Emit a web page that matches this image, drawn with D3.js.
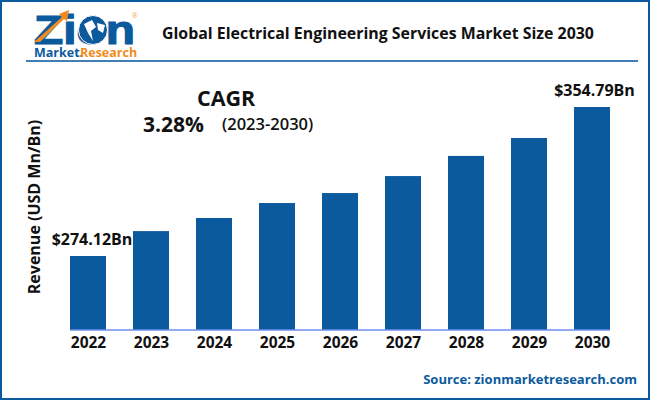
<!DOCTYPE html>
<html lang="en">
  <head>
    <meta charset="utf-8">
    <title>Global Electrical Engineering Services Market Size 2030</title>
    <script src="https://d3js.org/d3.v7.min.js"></script>
    <style>
      html, body { margin: 0; padding: 0; background: #fff; }
      text { font-family: "Open Sans", sans-serif; }
    </style>
  </head>
  <body>
    <div id="chart"></div>
    <script>
      const years = ["2022", "2023", "2024", "2025", "2026", "2027", "2028", "2029", "2030"];
      const revenue = [274.12, 287.6, 294.7, 302.8, 308.2, 317.4, 328.3, 338.0, 354.79];
      const firstLabel = "$274.12Bn";
      const lastLabel = "$354.79Bn";

      const svgWidth = 650, svgHeight = 400;
      const margin = { top: 107, right: 40, bottom: 70, left: 70 };
      const blue = "#0b5a9e";
      const ink = "#111";

      const svg = d3.select("#chart").append("svg")
          .attr("width", svgWidth)
          .attr("height", svgHeight)
          .style("display", "block");

      // page frame
      svg.append("rect")
          .attr("x", 1).attr("y", 1)
          .attr("width", svgWidth - 2).attr("height", svgHeight - 2)
          .attr("fill", "none")
          .attr("stroke", blue)
          .attr("stroke-width", 2);

      // header rule
      svg.append("line")
          .attr("x1", 26).attr("x2", 638)
          .attr("y1", 61).attr("y2", 61)
          .attr("stroke", "#3f7fb5")
          .attr("stroke-width", 2);

      // logo
      const logo = svg.append("g");
      logo.append("text").attr("x", 34).attr("y", 44)
          .attr("font-size", 41).attr("font-weight", 700)
          .attr("textLength", 101).attr("lengthAdjust", "spacingAndGlyphs")
          .attr("stroke", blue).attr("stroke-width", 1.2)
          .style("font-family", "'Liberation Sans', sans-serif")
          .attr("fill", blue).text("Zion");
      logo.append("path")
          .attr("d", "M34 42 L62 17 L59 14 L69 10 L67 21 L64 19 L40 42 Z")
          .attr("fill", "#f08c1e");
      logo.append("circle").attr("cx", 93).attr("cy", 30).attr("r", 14.5)
          .attr("fill", blue).attr("stroke", "#fff").attr("stroke-width", 1);
      logo.append("path")
          .attr("d", "M84 24 L92 20 L96 27 L91 31 L93 41 L88 33 Z M97 23 L105 25 L103 33 L98 30 Z")
          .attr("fill", "#fff");
      logo.append("text").attr("x", 132).attr("y", 18)
          .attr("font-size", 7).attr("fill", "#f0a860").text("®");
      logo.append("text").attr("x", 34).attr("y", 57)
          .attr("font-size", 12.5).attr("font-weight", 700)
          .attr("fill", blue).text("Market.");
      logo.append("text").attr("x", 80).attr("y", 57)
          .attr("font-size", 12.5).attr("font-weight", 700)
          .attr("fill", "#f08c1e").text("Research");

      // title
      svg.append("text")
          .attr("x", 162).attr("y", 38.5)
          .attr("font-size", 15.9).attr("font-weight", 700)
          .attr("fill", ink)
          .text("Global Electrical Engineering Services Market Size 2030");

      const width = svgWidth - margin.left - margin.right,
            height = svgHeight - margin.top - margin.bottom;

      const g = svg.append("g")
          .attr("transform", `translate(${margin.left}, ${margin.top})`);

      const barWidth = 36;
      const xBar = d3.scalePoint()
          .domain(years)
          .range([0, width - barWidth]);

      const yScale = d3.scaleLinear()
          .domain([234.05, 354.79])
          .range([height, 0]);

      g.selectAll("rect.bar")
          .data(years)
          .enter().append("rect")
          .attr("class", "bar")
          .attr("x", d => xBar(d))
          .attr("y", (d, i) => yScale(revenue[i]))
          .attr("width", barWidth)
          .attr("height", (d, i) => height - yScale(revenue[i]))
          .attr("fill", blue);

      // x axis
      const xAxis = d3.axisBottom(d3.scalePoint().domain(years).range([barWidth / 2, width - barWidth / 2]))
          .tickSize(0)
          .tickPadding(7);

      const xG = g.append("g")
          .attr("class", "x-axis")
          .attr("transform", `translate(0, ${height})`)
          .call(xAxis);
      xG.select(".domain")
          .attr("d", `M0,0H${width}`)
          .attr("stroke", "#6f8fef")
          .attr("stroke-width", 1.5);
      xG.selectAll("text")
          .attr("font-size", 15.5).attr("font-weight", 700)
          .attr("fill", ink)
          .style("font-family", "'Open Sans', sans-serif");

      // end labels
      g.append("text")
          .attr("x", xBar(years[0]) + barWidth / 2 + 4)
          .attr("y", yScale(revenue[0]) - 11)
          .attr("text-anchor", "middle")
          .attr("font-size", 16).attr("font-weight", 700).attr("fill", ink)
          .text(firstLabel);
      g.append("text")
          .attr("x", xBar(years[8]) + barWidth / 2 + 2.5)
          .attr("y", yScale(revenue[8]) - 11)
          .attr("text-anchor", "middle")
          .attr("font-size", 16).attr("font-weight", 700).attr("fill", ink)
          .text(lastLabel);

      // y title
      svg.append("text")
          .attr("transform", "translate(40, 207) rotate(-90)")
          .attr("text-anchor", "middle")
          .attr("font-size", 16).attr("font-weight", 700).attr("fill", ink)
          .text("Revenue (USD Mn/Bn)");

      // CAGR note
      svg.append("text").attr("x", 197).attr("y", 106)
          .attr("font-size", 21.5).attr("font-weight", 700).attr("fill", ink).text("CAGR");
      svg.append("text").attr("x", 143).attr("y", 132)
          .attr("font-size", 21).attr("font-weight", 700).attr("fill", ink).text("3.28%");
      svg.append("text").attr("x", 222).attr("y", 130)
          .attr("font-size", 16.5).attr("font-weight", 600).attr("fill", ink).text("(2023-2030)");

      // source
      svg.append("text")
          .attr("x", 637).attr("y", 384)
          .attr("text-anchor", "end")
          .attr("font-size", 13).attr("font-weight", 700).attr("fill", blue)
          .text("Source: zionmarketresearch.com");
    </script>
  </body>
</html>
